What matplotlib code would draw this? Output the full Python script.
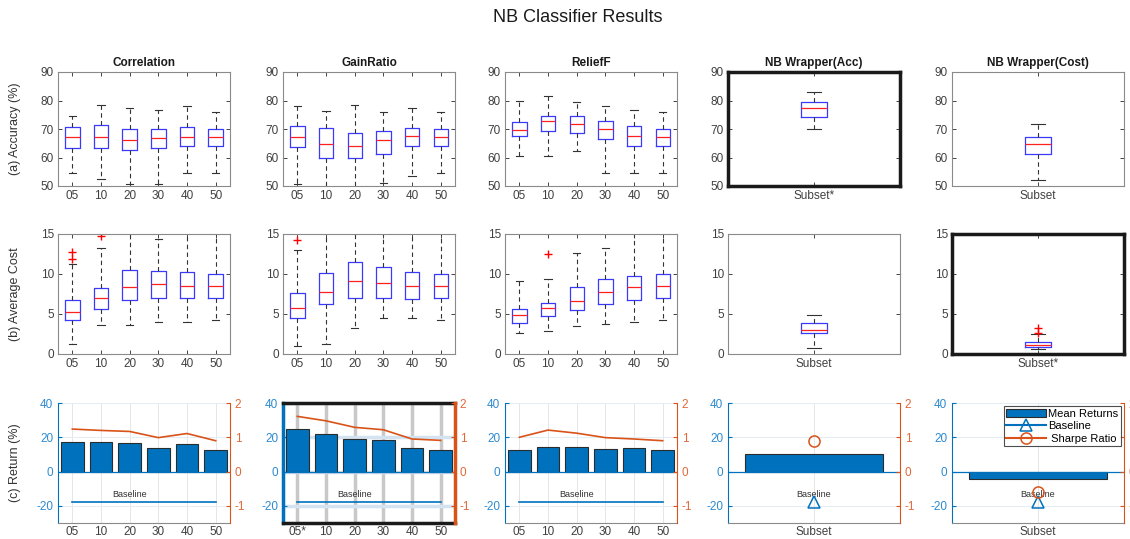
import matplotlib.pyplot as plt
import numpy as np

plt.rcParams['font.family'] = ['Liberation Sans', 'DejaVu Sans']
plt.rcParams['axes.unicode_minus'] = False

BLUE = '#0072BD'
ORANGE = '#D95319'
SPINE = '#8a8a8a'
TXT = '#404040'

methods = ['Correlation', 'GainRatio', 'ReliefF', 'NB Wrapper(Acc)', 'NB Wrapper(Cost)']
subsets = ['05', '10', '20', '30', '40', '50']

# boxplot stats, rows: lower whisker, Q1, median, Q3, upper whisker
corr_acc = [[54.4, 52.5, 50.7, 50.6, 54.7, 54.4],
            [63.5, 63.2, 62.5, 63.3, 64.2, 64.2],
            [67.1, 67.3, 66.1, 66.7, 67.1, 67.3],
            [70.6, 71.3, 70.1, 69.9, 70.6, 70.0],
            [74.7, 78.5, 77.3, 76.6, 78.0, 75.8]]
gain_acc = [[50.8, 48.0, 48.0, 51.2, 53.4, 54.4],
            [63.6, 59.9, 59.8, 61.2, 64.1, 64.1],
            [67.3, 64.6, 63.9, 66.1, 67.4, 67.3],
            [71.2, 70.2, 68.7, 69.3, 70.5, 70.0],
            [78.0, 76.4, 78.5, 75.9, 77.3, 75.8]]
relief_acc = [[60.7, 60.7, 62.2, 54.4, 54.4, 54.4],
              [67.4, 69.3, 68.6, 66.6, 64.2, 64.1],
              [69.5, 72.8, 71.6, 69.9, 67.6, 67.3],
              [72.4, 74.7, 74.4, 72.9, 70.9, 70.1],
              [79.9, 81.6, 79.3, 77.9, 76.5, 75.8]]
wacc_acc = [[70.0], [74.1], [77.3], [79.6], [83.1]]
wcost_acc = [[52.0], [61.4], [64.8], [67.3], [71.8]]

corr_cost = [[1.25, 3.6, 3.6, 4.0, 4.0, 4.3],
             [4.3, 5.67, 6.8, 7.0, 7.0, 7.0],
             [5.25, 7.0, 8.4, 8.75, 8.5, 8.5],
             [6.8, 8.25, 10.5, 10.4, 10.25, 10.0],
             [11.2, 13.3, 16.0, 14.4, 16.0, 16.0]]
corr_cost_out = [[11.9, 12.75], [14.8], [], [], [], []]
gain_cost = [[1.0, 1.25, 3.3, 4.5, 4.5, 4.3],
             [4.5, 6.2, 7.0, 7.0, 6.9, 7.0],
             [5.75, 7.8, 9.1, 8.9, 8.5, 8.5],
             [7.67, 10.1, 11.5, 10.9, 10.25, 10.0],
             [13.0, 16.0, 16.0, 16.0, 16.0, 16.0]]
gain_cost_out = [[14.2], [], [], [], [], []]
relief_cost = [[2.6, 2.9, 3.5, 3.7, 4.0, 4.3],
               [3.9, 4.8, 5.5, 6.2, 6.8, 7.0],
               [4.83, 5.7, 6.67, 7.7, 8.4, 8.5],
               [5.67, 6.4, 8.4, 9.4, 9.7, 10.0],
               [9.1, 9.4, 12.6, 13.3, 16.0, 16.0]]
relief_cost_out = [[], [12.5], [], [], [], []]
wacc_cost = [[0.8], [2.6], [3.0], [3.9], [4.9]]
wcost_cost = [[0.65], [0.9], [1.15], [1.45], [2.5]]
wcost_cost_out = [[2.6, 3.3]]

# mean returns (%) and sharpe ratio
ret_corr = [17.2, 17.2, 16.7, 14.0, 16.1, 12.6]
sharpe_corr = [1.24, 1.20, 1.17, 0.99, 1.11, 0.90]
ret_gain = [25.1, 21.8, 18.9, 18.2, 13.6, 12.4]
sharpe_gain = [1.61, 1.48, 1.29, 1.22, 0.95, 0.91]
ret_relief = [12.4, 14.4, 14.4, 13.2, 13.8, 12.4]
sharpe_relief = [1.00, 1.21, 1.12, 0.99, 0.95, 0.90]
ret_wacc = [10.0]
sharpe_wacc = [0.88]
ret_wcost = [-4.4]
sharpe_wcost = [-0.6]
baseline = -18

fig = plt.figure(figsize=(11.3, 5.39), dpi=100)
W, H = 1130, 539
col_left = [58, 283, 505, 728, 952]
col_w = 172
rows_px = [(72, 186), (234, 354), (403, 523)]


def make_ax(r, c):
    top, bot = rows_px[r]
    return fig.add_axes([col_left[c] / W, (H - bot) / H, col_w / W, (bot - top) / H])


def style_box_ax(ax, hl):
    ax.tick_params(direction='in', top=True, right=True, length=3, width=0.6,
                   color='#262626', labelcolor=TXT, labelsize=8.5, pad=3)
    for s in ax.spines.values():
        s.set_color('#1a1a1a' if hl else SPINE)
        s.set_linewidth(2.5 if hl else 0.8)


def box_panel(ax, stats, labels, fliers=None, hl=False):
    n = len(labels)
    if fliers is None:
        fliers = [[] for _ in range(n)]
    bs = [dict(whislo=stats[0][i], q1=stats[1][i], med=stats[2][i],
               q3=stats[3][i], whishi=stats[4][i], fliers=fliers[i]) for i in range(n)]
    w = 0.5 if n > 1 else 0.155
    ax.bxp(bs, positions=range(1, n + 1), widths=w, capwidths=w * 0.5,
           boxprops=dict(color='#3a3aff', lw=0.9),
           medianprops=dict(color='#ff2020', lw=0.9),
           whiskerprops=dict(color='#333333', ls=(0, (4, 3)), lw=0.8),
           capprops=dict(color='#333333', lw=0.8),
           flierprops=dict(marker='+', markeredgecolor='red', markersize=6, ls='none'))
    ax.set_xlim(0.5, n + 0.5)
    ax.set_xticks(range(1, n + 1), labels)
    style_box_ax(ax, hl)


def ret_panel(ax, rets, sharpe, labels, hl=False, legend=False):
    n = len(rets)
    x = np.arange(1, n + 1)
    ax.set_axisbelow(True)
    gl = 2.5 if hl else 0.7
    ax.grid(True, axis='x', color='#c8c8c8' if hl else '#e6e6e6', lw=gl)
    ax.grid(True, axis='y', color='#d4e3f1' if hl else '#e4ecf4', lw=gl)
    bars = ax.bar(x, rets, width=0.8, color=BLUE, edgecolor='#2b2b2b', lw=0.8, zorder=2)
    ax.axhline(0, color=BLUE, lw=0.9, zorder=3)
    if n > 1:
        bl, = ax.plot([x[0], x[-1]], [baseline, baseline], color=BLUE, lw=1.2, zorder=3)
        ax.text(3, baseline + 4.6, 'Baseline', fontsize=6.5, ha='center', va='center', color='#333333')
    else:
        bl, = ax.plot(x, [baseline], '-^', color=BLUE, mfc='none', ms=8, mew=1.1, zorder=4)
        ax.text(1, baseline + 4.6, 'Baseline', fontsize=6.5, ha='center', va='center', color='#333333')
    ax.set_xlim(0.5, n + 0.5)
    ax.set_ylim(-30, 40)
    ax.set_yticks([-20, 0, 20, 40])
    ax.set_xticks(x, labels)
    ax.tick_params(axis='y', direction='in', length=3, color=BLUE, labelcolor='#2d8ad0', labelsize=8.5)
    ax.tick_params(axis='x', direction='in', length=0, labelcolor=TXT, labelsize=8.5, pad=2)
    ax.spines['right'].set_visible(False)
    ax.spines['left'].set_color(BLUE)
    ax.spines['top'].set_visible(hl)
    ax.spines['bottom'].set_color('#1a1a1a' if hl else SPINE)

    ax2 = ax.twinx()
    if n > 1:
        sp, = ax2.plot(x, sharpe, color=ORANGE, lw=1.2)
    else:
        sp, = ax2.plot(x, sharpe, '-o', color=ORANGE, mfc='none', ms=8, mew=1.1)
    ax2.set_ylim(-1.5, 2)
    ax2.set_yticks([-1, 0, 1, 2])
    ax2.tick_params(axis='y', direction='in', length=3, color=ORANGE, labelcolor='#e0683a', labelsize=8.5)
    for s in ['left', 'top', 'bottom']:
        ax2.spines[s].set_visible(False)
    ax2.spines['right'].set_color(ORANGE)
    ax2.spines['right'].set_linewidth(2.5 if hl else 0.8)
    if hl:
        ax.spines['left'].set_linewidth(2.5)
        ax.spines['top'].set_color('#1a1a1a')
        ax.spines['top'].set_linewidth(2.5)
        ax.spines['bottom'].set_linewidth(2.5)
    else:
        ax.spines['left'].set_linewidth(0.8)
        ax.spines['bottom'].set_linewidth(0.8)
    if legend:
        leg = ax2.legend([bars, bl, sp], ['Mean Returns', 'Baseline', ' Sharpe Ratio'],
                         loc='upper right', fontsize=8, frameon=True, fancybox=False,
                         borderpad=0.2, handlelength=3.6, handletextpad=0.2, labelspacing=0.25,
                         borderaxespad=0.3)
        leg.get_frame().set_edgecolor('#222222')
        leg.get_frame().set_linewidth(0.8)
    return ax, ax2


# row 1: accuracy
acc_data = [corr_acc, gain_acc, relief_acc, wacc_acc, wcost_acc]
acc_labels = [subsets, subsets, subsets, ['Subset*'], ['Subset']]
for c in range(5):
    ax = make_ax(0, c)
    box_panel(ax, acc_data[c], acc_labels[c], hl=(c == 3))
    ax.set_ylim(50, 90)
    ax.set_yticks([50, 60, 70, 80, 90])
    ax.set_title(methods[c], fontsize=8.5, fontweight='bold', color='#1a1a1a', pad=4)

# row 2: average cost
cost_data = [corr_cost, gain_cost, relief_cost, wacc_cost, wcost_cost]
cost_out = [corr_cost_out, gain_cost_out, relief_cost_out, None, wcost_cost_out]
cost_labels = [subsets, subsets, subsets, ['Subset'], ['Subset*']]
for c in range(5):
    ax = make_ax(1, c)
    box_panel(ax, cost_data[c], cost_labels[c], fliers=cost_out[c], hl=(c == 4))
    ax.set_ylim(0, 15)
    ax.set_yticks([0, 5, 10, 15])

# row 3: returns
ret_panel(make_ax(2, 0), ret_corr, sharpe_corr, subsets)
ret_panel(make_ax(2, 1), ret_gain, sharpe_gain, ['05*'] + subsets[1:], hl=True)
ret_panel(make_ax(2, 2), ret_relief, sharpe_relief, subsets)
ret_panel(make_ax(2, 3), ret_wacc, sharpe_wacc, ['Subset'])
ret_panel(make_ax(2, 4), ret_wcost, sharpe_wcost, ['Subset'], legend=True)

fig.text(578 / W, 1 - 18 / H, 'NB Classifier Results', ha='center', va='center', fontsize=13, color='#1a1a1a')
row_labels = ['(a) Accuracy (%)', '(b) Average Cost', '(c) Return (%)']
for (top, bot), lab in zip(rows_px, row_labels):
    fig.text(15 / W, 1 - (top + bot) / 2 / H, lab, rotation=90, ha='center', va='center',
             fontsize=9, color='#333333')

fig.savefig('out.png', dpi=100)
